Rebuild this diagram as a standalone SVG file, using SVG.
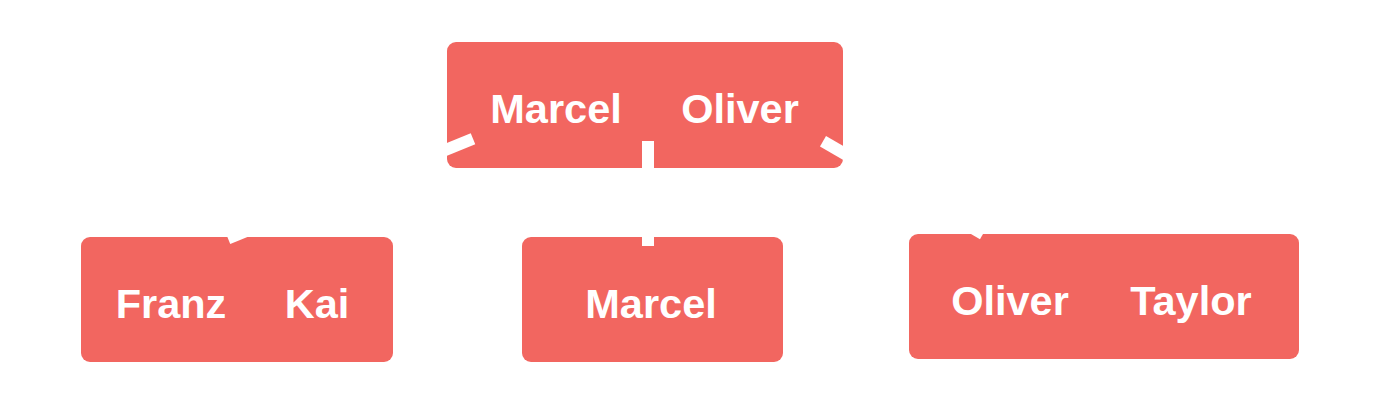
<svg xmlns="http://www.w3.org/2000/svg" width="1377" height="405" viewBox="0 0 1377 405">
  <style>
    .box { fill: #f26660; }
    .lbl { font-family: "Liberation Sans", Arial, sans-serif; font-weight: bold; font-size: 41.5px; fill: #ffffff; text-anchor: middle; }
    .edge { stroke: #ffffff; stroke-width: 12; stroke-linecap: butt; fill: none; }
  </style>
  <rect width="1377" height="405" fill="#ffffff"/>
  <g id="node-root">
    <rect class="box" x="447" y="42" width="396" height="126" rx="9"/>
    <text class="lbl" x="556" y="123">Marcel</text>
    <text class="lbl" x="740" y="123">Oliver</text>
  </g>
  <g id="node-franz-kai">
    <rect class="box" x="81" y="237" width="312" height="125" rx="9"/>
    <text class="lbl" x="171" y="318">Franz</text>
    <text class="lbl" x="317" y="318">Kai</text>
  </g>
  <g id="node-marcel">
    <rect class="box" x="522" y="237" width="261" height="125" rx="9"/>
    <text class="lbl" x="651" y="318">Marcel</text>
  </g>
  <g id="node-oliver-taylor">
    <rect class="box" x="909" y="234" width="390" height="125" rx="9"/>
    <text class="lbl" x="1010" y="315">Oliver</text>
    <text class="lbl" x="1191" y="315">Taylor</text>
  </g>
  <g id="connectors">
    <line class="edge" x1="473" y1="138.7" x2="228" y2="238.5"/>
    <line class="edge" x1="648" y1="141" x2="648" y2="246"/>
    <line class="edge" x1="823" y1="141.3" x2="983" y2="234"/>
  </g>
</svg>
